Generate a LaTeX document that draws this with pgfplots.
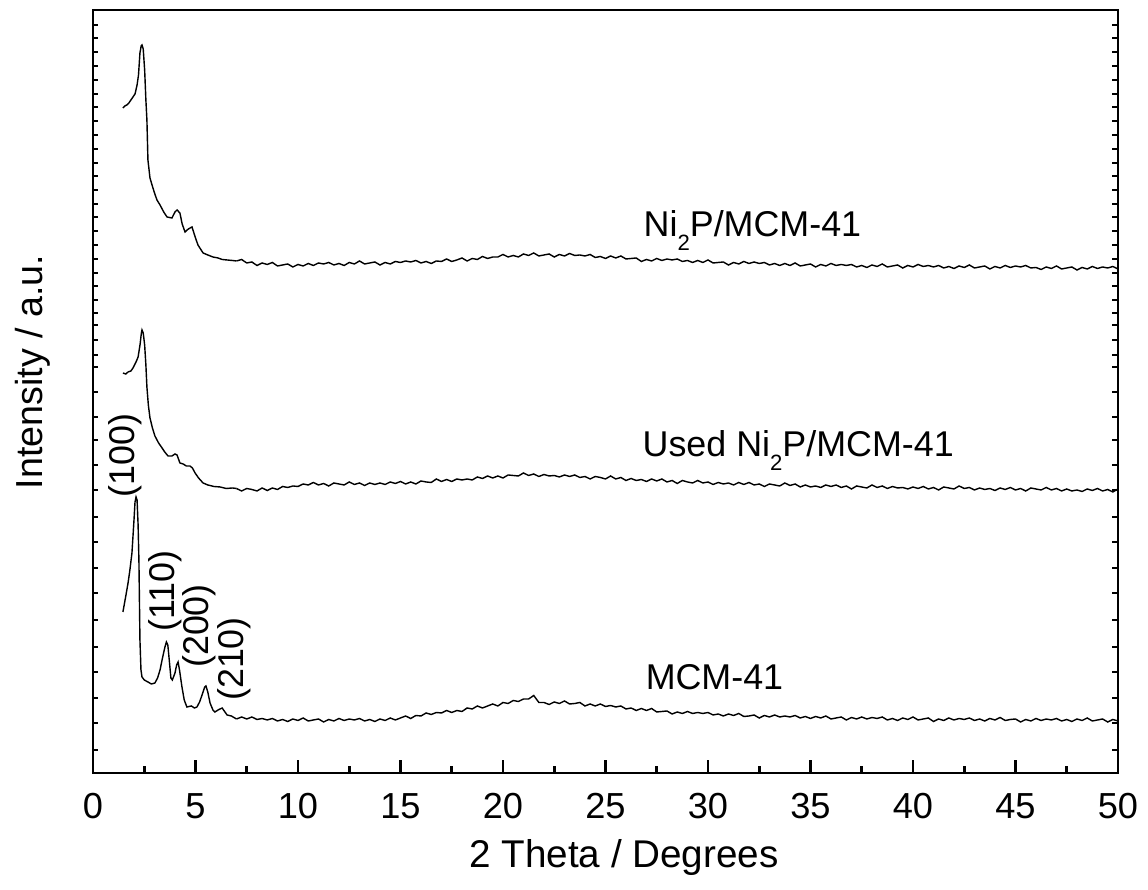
\documentclass[border=0pt]{standalone}
\usepackage{fontspec}
\setmainfont{Liberation Sans}
\usepackage{pgfplots}
\pgfplotsset{compat=1.18}
\usepackage{pgfplotstable}

% early parts: x, pixel row (y = 773 - p)
\pgfplotstableread{
x p
1.46 108
1.55 106
1.65 105
1.75 103
1.85 100
1.95 97
2.05 94
2.15 85
2.22 75
2.29 53
2.35 46
2.39 45
2.45 49
2.52 70
2.58 100
2.63 120
2.68 160
2.78 178
2.88 185
3.0 193
3.12 200
3.27 205
3.45 212
3.61 217
3.85 218
4.0 212
4.1 210
4.24 213
4.35 224
4.49 232
4.65 229
4.83 227
5.0 238
5.12 245
5.37 253
5.6 255
5.85 257
6.1 258
6.3 259.5
6.54 260
6.8 260.5
7 261
}\topA

\pgfplotstableread{
x p
1.46 373
1.6 374
1.71 372
1.85 371
1.95 368
2.1 362
2.2 357
2.3 344
2.36 333
2.39 330
2.45 333
2.52 345
2.58 365
2.63 387
2.7 405
2.78 418
2.9 428
3.02 436
3.2 443
3.37 448
3.5 452
3.66 456
3.85 456
4.0 454
4.1 455
4.24 463
4.4 464
4.55 466
4.73 466
4.85 468
4.98 473
5.15 478
5.37 483
5.6 485
5.9 486.5
6.2 487
6.5 488.5
6.8 488
7 488.5
}\midA

\pgfplotstableread{
x p
1.46 612
1.6 596
1.71 583
1.8 570
1.9 553
2.0 520
2.05 502
2.1 497
2.15 500
2.2 525
2.24 560
2.29 640
2.34 670
2.39 677
2.5 680
2.68 682
2.85 684
3.02 683
3.15 678
3.27 670
3.4 657
3.51 647
3.58 642
3.65 645
3.72 660
3.8 678
3.87 680
4.0 673
4.08 665
4.15 662
4.22 670
4.34 687
4.45 700
4.58 707
4.8 706
4.95 708
5.07 707
5.2 702
5.32 695
5.45 687
5.51 686
5.6 692
5.71 703
5.85 710
5.95 712
6.1 710
6.3 708
6.54 715
6.75 716
7 719
}\botA

% tails: x, top, middle, bottom (pixel rows)
\pgfplotstableread{
x t m b
7 261 488.5 719
7.25 259.5 491 717
7.5 263 488.5 719
7.75 262 489.5 717
8 265.5 491 719.5
8.25 263 488 718.5
8.5 264.5 490.5 720
8.75 262.5 488 718.5
9 266 489.5 721
9.25 265 486.5 719.5
9.5 264 487.5 721.5
9.75 267 486 719
10 264.5 486.5 720.5
10.25 266 484 718
10.5 263.5 485 721
10.75 265.5 482.5 720
11 263 485 719
11.25 264 483.5 722
11.5 262.5 486 719.5
11.75 265 483 721
12 263.5 484 718.5
12.25 265.5 485 720.5
12.5 262.5 482 719
12.75 264 484.5 720
13 261 483 718.5
13.25 264 485.5 721
13.5 263 483 719.5
13.75 262 484.5 721.5
14 265 483 719
14.25 262.5 484.5 720.5
14.5 264 482 718
14.75 261.5 483.5 720
15 262.5 481.5 718
15.25 261 484 716
15.5 262 482 718.5
15.75 260.5 484 715.5
16 263 481 716
16.25 261.5 482 713
16.5 263.5 482.5 714.5
16.75 261 479 712.5
17 261.5 481.5 713
17.25 259 479.5 710.5
17.5 261.5 481.5 712.5
17.75 260 479 710.5
18 258 480 711.5
18.25 261 479 708
18.5 258.5 480 709
18.75 259.5 477 706
19 256.5 478.5 708
19.25 258.5 476 706
19.5 257 478 704
19.75 257 476 706
20 254.5 478 702.5
20.25 257 475 703.5
20.5 255.5 475.5 700.5
20.75 257 476 701.5
21 254 473 699
21.25 255.5 475.5 699
21.5 253 474 695.5
21.75 256 476.5 702.5
22 255 474.5 702.5
22.25 254 476 704.5
22.5 257 475.5 702
22.75 254.5 477 703.5
23 256 475 701
23.25 253.5 476.5 704
23.5 255.5 475 703.5
23.75 255 477.5 702.5
24 256 476.5 706
24.25 254.5 479 704
24.5 257.5 476.5 706
24.75 256.5 477.5 704
25 258.5 479 706.5
25.25 256 476 705.5
25.5 258 479 707
25.75 256 477.5 706
26 259 480.5 709
26.25 258.5 478.5 708
26.5 258 480.5 710.5
26.75 261.5 479.5 708.5
27 259.5 481.5 710.5
27.25 261 479 708.5
27.5 258.5 481 712
27.75 260.5 479 711.5
28 259 482 711
28.25 260 480.5 714
28.5 259 483.5 712
28.75 261.5 480.5 713.5
29 260.5 482 711.5
29.25 262.5 483 713.5
29.5 260.5 480.5 712.5
29.75 262.5 483 713.5
30 260 482 712.5
30.25 263 484.5 715
30.5 262.5 482.5 714
30.75 262 484 716
31 265 483 714
31.25 262.5 485 715.5
31.5 264 482.5 713.5
31.75 261.5 484.5 716.5
32 263.5 482.5 716
32.25 262 485 715
32.5 263.5 484 718
32.75 262.5 486.5 715.5
33 265 484 717
33.25 263.5 485 715
33.5 265.5 486 717
33.75 263.5 483 716
34 265.5 485.5 717
34.25 263 484 715.5
34.5 266 487 718
34.75 265 485 716.5
35 264 487 718.5
35.25 267 486 716.5
35.5 264.5 487.5 718
35.75 266 485 716
36 263.5 486.5 719
36.25 265.5 485 718
36.5 264.5 487.5 717
36.75 265.5 486 720
37 264.5 489 717.5
37.25 267 486 719
37.5 265.5 487 717
37.75 267.5 488 719
38 265 485 717.5
38.25 266.5 487.5 718.5
38.5 264 486 717
38.75 267 488.5 720
39 266 486.5 718.5
39.25 265 488 720.5
39.5 268 487.5 718
39.75 265.5 489 719.5
40 267 487 717
40.25 264.5 488.5 720
40.5 266.5 486.5 719
40.75 265.5 489 718
41 267 487.5 721.5
41.25 265.5 490 719
41.5 268 487 720.5
41.75 266.5 488 718
42 268.5 489 720
42.25 266 486 718.5
42.5 267.5 488.5 719.5
42.75 265 487.5 718
43 268 490 720.5
43.25 267 488 719
43.5 266 489.5 721
43.75 269 488.5 718.5
44 266.5 490.5 720
44.25 268 488 717.5
44.5 265.5 489.5 720.5
44.75 267.5 487.5 719.5
45 266 490 719
45.25 267 488.5 722
45.5 265.5 491 719.5
45.75 268 488 721
46 267.5 489 718.5
46.25 269.5 490 720.5
46.5 267 487.5 719
46.75 268.5 490 720
47 266 488.5 718.5
47.25 269 491 721
47.5 268 489 719.5
47.75 267 491 721.5
48 270 490 719
48.25 267.5 491.5 720.5
48.5 269 489 718
48.75 266.5 490.5 721
49 268.5 488.5 720
49.25 267 491 719
49.5 268 489.5 722
49.75 266.5 492 719.5
50 269 489 721
}\tails

\newcommand{\sub}{\raisebox{-1.4mm}{\fontsize{6.3}{7}\selectfont 2}}

\begin{document}
\begin{tikzpicture}
\useasboundingbox (-9.3mm,-11.7mm) rectangle (105.5mm,77.3mm);
\begin{axis}[
  at={(0,0)}, anchor=south west,
  scale only axis, width=102.5mm, height=76.3mm,
  xmin=0, xmax=50, ymin=0, ymax=763,
  xtick={0,5,...,50}, minor x tick num=1,
  ytick={748,735,721,707,693,679,666,652,638,624,610,597,583,569,556,542,528,514,500,487,473,460,448,433,418,406,381,356,333,308,283,256,231,205,180,153,126,101,75,50,23},
  yticklabels={},
  ytick style={/pgfplots/major tick length=0.55mm},
  xtick pos=left, ytick pos=both,
  tick align=inside,
  major tick length=1.3mm, minor tick length=0.65mm,
  axis line style={line width=0.8pt},
  every tick/.style={black, line width=0.75pt},
  every minor tick/.style={black, line width=0.75pt},
  /pgf/number format/assume math mode=true,
  xticklabel style={font=\fontsize{10.3}{12}\selectfont, yshift=-0.8mm},
  clip=false,
]
\addplot[black, line width=0.4pt, mark=none] table[x=x, y expr=773-\thisrow{p}] {\topA};
\addplot[black, line width=0.4pt, mark=none] table[x=x, y expr=773-\thisrow{t}] {\tails};
\addplot[black, line width=0.4pt, mark=none] table[x=x, y expr=773-\thisrow{p}] {\midA};
\addplot[black, line width=0.4pt, mark=none] table[x=x, y expr=773-\thisrow{m}] {\tails};
\addplot[black, line width=0.4pt, mark=none] table[x=x, y expr=773-\thisrow{p}] {\botA};
\addplot[black, line width=0.4pt, mark=none] table[x=x, y expr=773-\thisrow{b}] {\tails};

\node[anchor=base west, inner sep=0pt, font=\fontsize{10.2}{12}\selectfont] at (axis cs:26.83,536) {Ni\sub P/MCM-41};
\node[anchor=base west, inner sep=0pt, font=\fontsize{10.2}{12}\selectfont] at (axis cs:26.78,316) {Used Ni\sub P/MCM-41};
\node[anchor=base west, inner sep=0pt, font=\fontsize{10.2}{12}\selectfont] at (axis cs:26.93,83) {MCM-41};

\node[rotate=90, inner sep=0pt, font=\fontsize{10.2}{12}\selectfont] at (axis cs:1.585,317.5) {(100)};
\node[rotate=90, inner sep=0pt, font=\fontsize{10.2}{12}\selectfont] at (axis cs:3.51,182) {(110)};
\node[rotate=90, inner sep=0pt, font=\fontsize{10.2}{12}\selectfont] at (axis cs:5.17,147) {(200)};
\node[rotate=90, inner sep=0pt, font=\fontsize{10.2}{12}\selectfont] at (axis cs:6.9,114) {(210)};

\node[anchor=base, inner sep=0pt, font=\fontsize{11}{13}\selectfont] at (axis cs:25.9,-95) {2 Theta / Degrees};
\node[rotate=90, inner sep=0pt, font=\fontsize{10.7}{13}\selectfont] at (axis cs:-2.93,401) {Intensity / a.u.};
\end{axis}
\end{tikzpicture}
\end{document}
